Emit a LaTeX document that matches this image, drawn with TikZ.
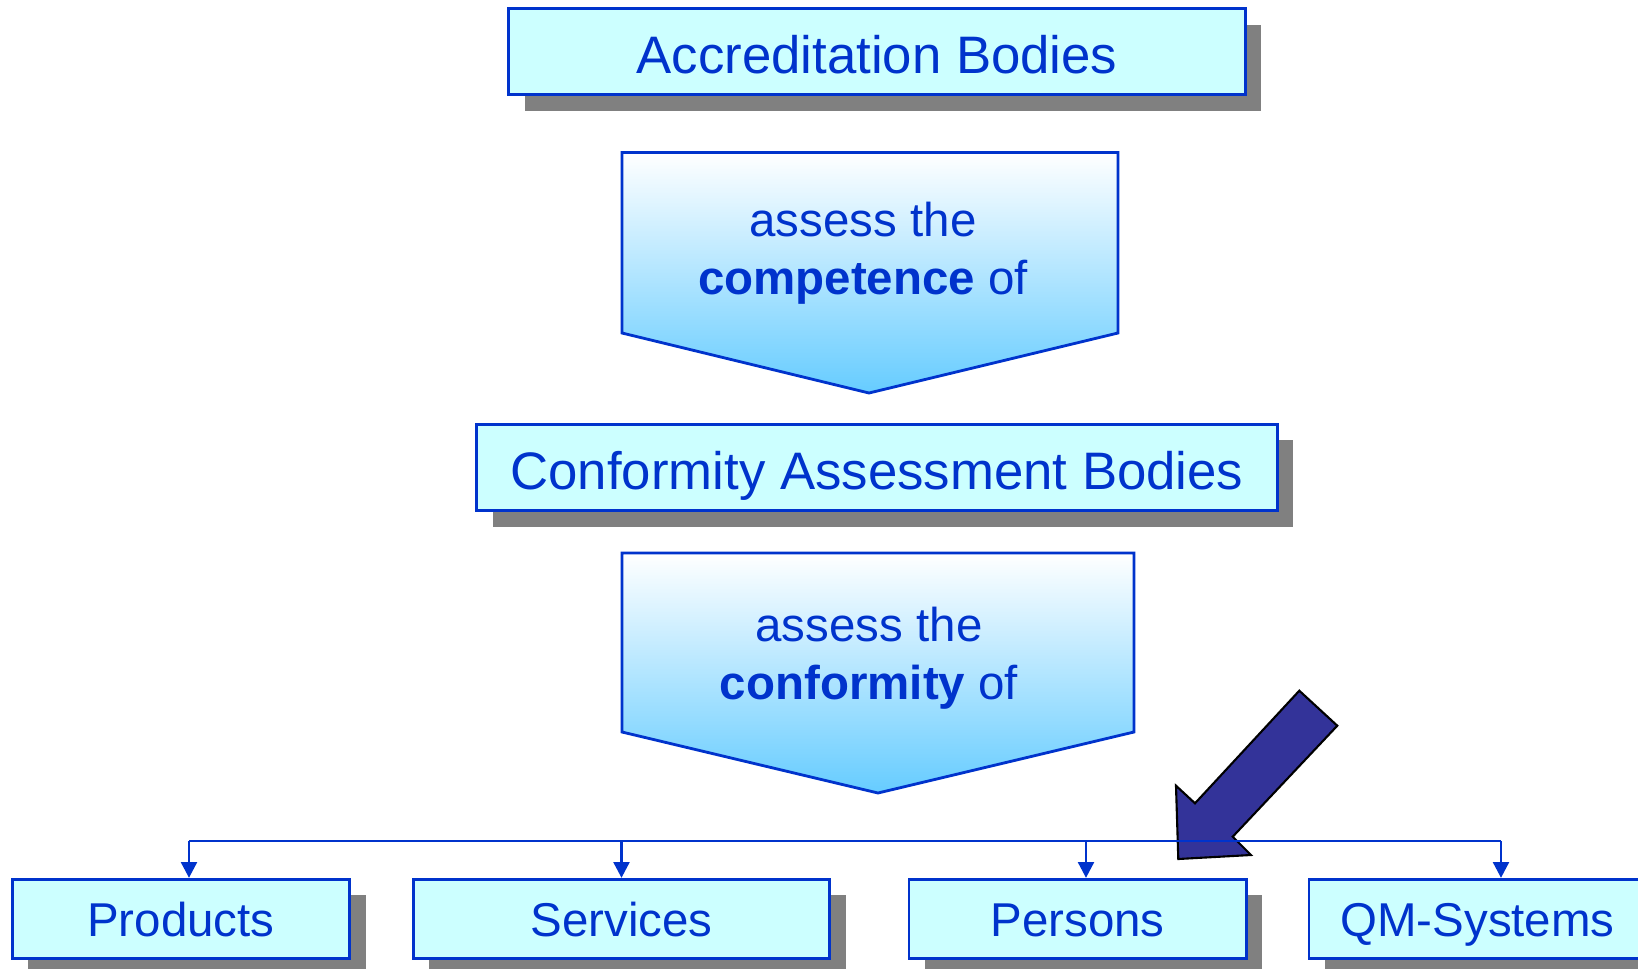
\documentclass[tikz,border=0pt]{standalone}
\usepackage{fontspec}
\setmainfont{Liberation Sans}
\usetikzlibrary{arrows.meta,shadows}
\definecolor{cabblue}{RGB}{0,51,204}
\definecolor{boxcyan}{RGB}{204,255,255}
\definecolor{tipblue}{RGB}{102,204,255}
\definecolor{shadowgray}{RGB}{128,128,128}
\definecolor{pointer}{RGB}{51,51,153}
\tikzset{
  body/.style={draw=cabblue, line width=0.8pt, fill=boxcyan, text=cabblue, inner sep=0pt,
    text depth=0pt,
    drop shadow={shadow xshift=0.16cm, shadow yshift=-0.16cm, fill=shadowgray, opacity=1}},
  big/.style={body, font=\fontsize{15}{18}\selectfont, text height=12.3pt, minimum height=0.86cm},
  small/.style={body, font=\fontsize{13.5}{16}\selectfont, text height=10.3pt, minimum width=3.37cm, minimum height=0.79cm},
  chevron/.style={draw=cabblue, line width=0.8pt, top color=white, bottom color=tipblue},
  say/.style={text=cabblue, align=center, font=\fontsize{13.5}{16.4}\selectfont},
  link/.style={draw=cabblue, line width=0.8pt},
  >={Triangle[width=4.5pt,length=4.5pt]}
}
\begin{document}
\begin{tikzpicture}[x=0.01cm, y=-0.01cm]
\useasboundingbox (0,0) rectangle (1638,969);
\path (877,51.7) node[big, minimum width=7.36cm](acc) {Accreditation Bodies}
      (877,467.5) node[big, minimum width=8cm](cab) {Conformity Assessment Bodies}
      (181,918.8) node[small](prod) {Products}
      (621.5,918.8) node[small, minimum width=4.16cm](serv) {Services}
      (1077.5,918.8) node[small](pers) {Persons}
      (1477.5,918.8) node[small](qms) {QM-Systems};
\draw[chevron] (622,152.5) -- (1118,152.5) -- (1118,333) -- (869,393) -- (622,333) -- cycle;
\node[say] (comp) at (863,253) {assess the\\\textbf{competence} of};
\draw[chevron] (622,553) -- (1134,553) -- (1134,732) -- (878,793) -- (622,732) -- cycle;
\node[say] (conf) at (869,658) {assess the\\\textbf{conformity} of};
\draw[fill=pointer, line width=0.6pt] (1299.3,690.7) -- (1337.3,725.7) -- (1232.7,836.7) -- (1251,855) -- (1178.3,859) -- (1176,785.7) -- (1195,803.3) -- cycle;
\coordinate (busL) at (189,841);
\coordinate (busR) at (1501,841);
\coordinate (busP) at (1086,841);
\draw[link] (busL) -- (busR);
\draw[link,->] (busL) -- (busL |- prod.north);
\draw[link,->] (serv.north |- busL) -- (serv.north);
\draw[link,->] (busP) -- (busP |- pers.north);
\draw[link,->] (busR) -- (busR |- qms.north);
\end{tikzpicture}
\end{document}
